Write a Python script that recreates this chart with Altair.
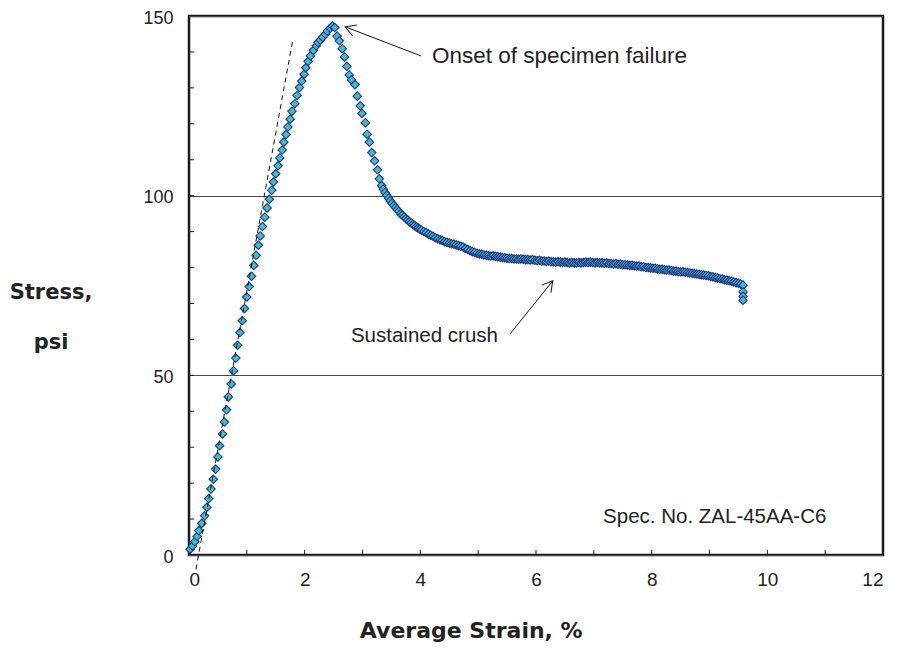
import altair as alt
import pandas as pd

# ---- data ----
strain = [
    0.02, 0.06, 0.10, 0.14, 0.17, 0.22, 0.27, 0.31, 0.34, 0.38, 0.42, 0.46, 0.50, 0.53, 0.58,
    0.61, 0.65, 0.68, 0.73, 0.77, 0.81, 0.84, 0.88, 0.92, 0.96, 1.00, 1.04, 1.08, 1.12, 1.16,
    1.20, 1.23, 1.27, 1.31, 1.35, 1.39, 1.43, 1.46, 1.50, 1.54, 1.57, 1.61, 1.64, 1.68, 1.71,
    1.75, 1.78, 1.83, 1.87, 1.91, 1.95, 1.99, 2.02, 2.06, 2.10, 2.15, 2.20, 2.23, 2.27, 2.31,
    2.36, 2.39, 2.44, 2.48, 2.52,
    2.56, 2.60, 2.65, 2.69, 2.73, 2.77, 2.81, 2.87, 2.91, 2.96, 2.99, 3.05, 3.08, 3.12, 3.16,
    3.21, 3.26, 3.29,
    3.33, 3.36, 3.39, 3.42, 3.45, 3.48, 3.51, 3.54, 3.57, 3.60, 3.63, 3.66, 3.69, 3.72, 3.75,
    3.78, 3.81, 3.84, 3.87, 3.90, 3.93, 3.96, 3.99,
    4.02, 4.06, 4.10, 4.14, 4.18, 4.22, 4.26, 4.30, 4.34, 4.38, 4.42, 4.46, 4.50, 4.54, 4.58,
    4.62, 4.66, 4.70, 4.74, 4.78, 4.82, 4.86, 4.90, 4.94, 4.98, 5.02, 5.06, 5.10, 5.14, 5.18,
    5.22, 5.26, 5.30, 5.34, 5.38, 5.42, 5.46, 5.50, 5.54, 5.58, 5.62, 5.66, 5.70, 5.74, 5.78,
    5.82, 5.86, 5.90, 5.94, 5.98, 6.02, 6.06, 6.10, 6.14, 6.18, 6.22, 6.26, 6.30, 6.34, 6.38,
    6.42, 6.46, 6.50, 6.54, 6.58, 6.62, 6.66, 6.70, 6.74, 6.78, 6.82, 6.86, 6.90, 6.94, 6.98,
    7.02, 7.06, 7.10, 7.14, 7.18, 7.22, 7.26, 7.30, 7.34, 7.38, 7.42, 7.46, 7.50, 7.54, 7.58,
    7.62, 7.66, 7.70, 7.74, 7.78, 7.82, 7.86, 7.90, 7.94, 7.98, 8.02, 8.06, 8.10, 8.14, 8.18,
    8.22, 8.26, 8.30, 8.34, 8.38, 8.42, 8.46, 8.50, 8.54, 8.58, 8.62, 8.66, 8.70, 8.74, 8.78,
    8.82, 8.86, 8.90, 8.94, 8.98, 9.02, 9.06, 9.10, 9.14, 9.18, 9.22, 9.26, 9.30, 9.34, 9.38,
    9.42, 9.46, 9.50, 9.54, 9.58, 9.58, 9.58, 9.58,
]
stress = [
    1.6, 2.5, 3.7, 5.2, 6.8, 8.8, 10.9, 13.3, 15.7, 18.4, 21.1, 23.9, 27.3, 30.4, 33.7,
    37.0, 40.4, 44.0, 47.6, 51.3, 54.8, 58.4, 61.9, 65.2, 68.6, 71.8, 74.7, 77.6, 80.6, 83.4,
    86.2, 88.8, 91.4, 94.0, 96.6, 99.0, 101.5, 103.8, 106.1, 108.3, 110.5, 112.7, 114.9, 117.0, 119.1,
    121.3, 123.5, 125.6, 127.9, 130.1, 131.9, 133.8, 135.6, 137.4, 138.9, 140.4, 141.7, 142.6, 143.3, 144.1,
    144.9, 145.8, 146.6, 147.2, 146.8,
    144.4, 143.1, 140.9, 138.6, 136.0, 133.6, 132.2, 130.9, 127.7, 125.0, 122.9, 120.3, 117.1, 114.9, 112.0,
    109.7, 107.2, 104.7,
    102.8, 101.8, 100.9, 100.1, 99.3, 98.6, 97.9, 97.3, 96.7, 96.1, 95.6, 95.0, 94.6, 94.1, 93.6,
    93.2, 92.8, 92.4, 92.0, 91.7, 91.3, 91.0, 90.7,
    90.4, 90.0, 89.7, 89.3, 89.0, 88.7, 88.3, 88.0, 87.7, 87.5, 87.2, 87.0, 86.8, 86.6, 86.5,
    86.3, 86.1, 85.9, 85.7, 85.3, 85.0, 84.7, 84.4, 84.2, 84.0, 83.8, 83.7, 83.5, 83.4, 83.3,
    83.2, 83.3, 83.1, 83.0, 82.9, 82.8, 82.7, 82.6, 82.5, 82.5, 82.4, 82.4, 82.3, 82.4, 82.3,
    82.2, 82.2, 82.1, 82.2, 82.0, 81.9, 82.0, 81.8, 81.8, 81.7, 81.8, 81.6, 81.6, 81.5, 81.6,
    81.5, 81.4, 81.5, 81.4, 81.3, 81.4, 81.3, 81.3, 81.4, 81.3, 81.4, 81.5, 81.4, 81.5, 81.4,
    81.3, 81.4, 81.3, 81.3, 81.2, 81.3, 81.1, 81.1, 81.0, 81.1, 80.9, 80.9, 80.8, 80.8, 80.7,
    80.6, 80.6, 80.5, 80.4, 80.4, 80.2, 80.2, 80.0, 80.0, 79.9, 79.8, 79.8, 79.6, 79.5, 79.5,
    79.4, 79.3, 79.3, 79.2, 79.0, 79.0, 78.9, 78.8, 78.8, 78.7, 78.6, 78.5, 78.4, 78.3, 78.2,
    78.1, 78.0, 77.9, 77.8, 77.7, 77.5, 77.4, 77.2, 77.1, 76.9, 76.8, 76.6, 76.5, 76.3, 76.2,
    76.0, 75.8, 75.6, 75.4, 75.1, 73.2, 72.0, 70.9,
]

x_ticks = [0, 2, 4, 6, 8, 10, 12]
y_ticks = [0, 50, 100, 150]
x_minor = [1, 2, 3, 4, 5, 6, 7, 8, 9, 10, 11]
y_minor = [10, 20, 30, 40, 50, 60, 70, 80, 90, 100, 110, 120, 130, 140]

# modulus (dashed) line end points
mod_strain = [0.12, 1.80]
mod_stress = [-4.0, 143.8]

# annotations
ann_text = ["Onset of specimen failure", "Sustained crush", "Spec. No. ZAL-45AA-C6"]
ann_x = [4.20, 2.80, 7.16]
ann_y = [138.9, 61.0, 10.6]
ann_size = [22.5, 20.5, 20.5]

arrow_id = ["onset", "onset", "crush", "crush"]
arrow_x = [4.01, 2.70, 5.55, 6.29]
arrow_y = [138.9, 147.0, 61.5, 76.3]
head_x = [2.70, 6.29]
head_y = [147.0, 76.3]
head_angle = [291, 39]

FONT = "Liberation Sans"
TFONT = "DejaVu Sans"
W, H = 694, 539

xs = alt.Scale(domain=[0, 12], nice=False)
ys = alt.Scale(domain=[0, 150], nice=False)

df = pd.DataFrame({"strain": strain, "stress": stress})

base_points = alt.Chart(df).mark_point(
    shape="diamond", filled=True, fill="#3CBFCF", stroke="#27347F",
    strokeWidth=1.1, size=72, opacity=1,
).encode(
    x=alt.X("strain:Q", scale=xs, axis=alt.Axis(
        values=x_ticks, grid=False, ticks=False, tickSize=0, domain=False,
        labelFontSize=19, labelFont=FONT, labelColor="#222", labelPadding=15,
        title=None, format="d")),
    y=alt.Y("stress:Q", scale=ys, axis=alt.Axis(
        values=y_ticks, grid=True, gridColor="#4a4a4a", gridWidth=1.2,
        ticks=False, tickSize=0, domain=False, labelFontSize=18, labelFont=FONT,
        labelColor="#222", labelPadding=16, labelOffset=2, title=None, format="d")),
)

ymin = alt.Chart(pd.DataFrame({"v": y_minor})).mark_rule(color="#1a1a1a", strokeWidth=1).encode(
    y=alt.Y("v:Q", scale=ys), x=alt.value(0), x2=alt.value(5))
xmin = alt.Chart(pd.DataFrame({"v": x_minor})).mark_rule(color="#1a1a1a", strokeWidth=1).encode(
    x=alt.X("v:Q", scale=xs), y=alt.value(H), y2=alt.value(H - 5))

dash = alt.Chart(pd.DataFrame({"strain": mod_strain, "stress": mod_stress})).mark_line(
    color="#111", strokeWidth=1, strokeDash=[5, 4], clip=False).encode(
    x=alt.X("strain:Q", scale=xs), y=alt.Y("stress:Q", scale=ys))

arrows = alt.Chart(pd.DataFrame({"id": arrow_id, "x": arrow_x, "y": arrow_y})).mark_line(
    color="#111", strokeWidth=1).encode(
    x=alt.X("x:Q", scale=xs), y=alt.Y("y:Q", scale=ys), detail="id:N")

heads = alt.Chart(pd.DataFrame({"x": head_x, "y": head_y, "a": head_angle})).mark_point(
    shape="M -0.5 0.87 L 0 0 L 0.5 0.87", filled=False, stroke="#111",
    strokeWidth=1, size=560, opacity=1).encode(
    x=alt.X("x:Q", scale=xs), y=alt.Y("y:Q", scale=ys), angle=alt.Angle("a:Q", scale=None))

texts = alt.Chart(pd.DataFrame({"t": ann_text, "x": ann_x, "y": ann_y, "fs": ann_size})).mark_text(
    align="left", baseline="middle", font=FONT, color="#222").encode(
    x=alt.X("x:Q", scale=xs), y=alt.Y("y:Q", scale=ys), text="t:N",
    size=alt.Size("fs:Q", scale=None))

xtitle = alt.Chart(pd.DataFrame({"t": ["Average Strain, %"], "x": [4.88]})).mark_text(
    align="center", baseline="alphabetic", fontSize=22, fontWeight="bold", font=TFONT,
    color="#222").encode(x=alt.X("x:Q", scale=xs), y=alt.value(622), text="t:N")

ytitle = alt.Chart(pd.DataFrame({"t": ["Stress,", "psi"], "yy": [283, 333]})).mark_text(
    align="center", baseline="alphabetic", fontSize=21, fontWeight="bold", font=TFONT,
    color="#222").encode(x=alt.value(-138), y=alt.Y("yy:Q", scale=None), text="t:N")

chart = alt.layer(
    base_points, ymin, xmin, dash, arrows, heads, texts, xtitle, ytitle
).properties(
    width=W, height=H,
    autosize=alt.AutoSizeParams(type="none"),
    padding={"left": 181, "top": 8, "right": 10, "bottom": 90},
).configure_view(
    stroke="#1a1a1a", strokeWidth=2.5
)

chart.save("out.html", embed_options={"renderer": "svg", "actions": False})
